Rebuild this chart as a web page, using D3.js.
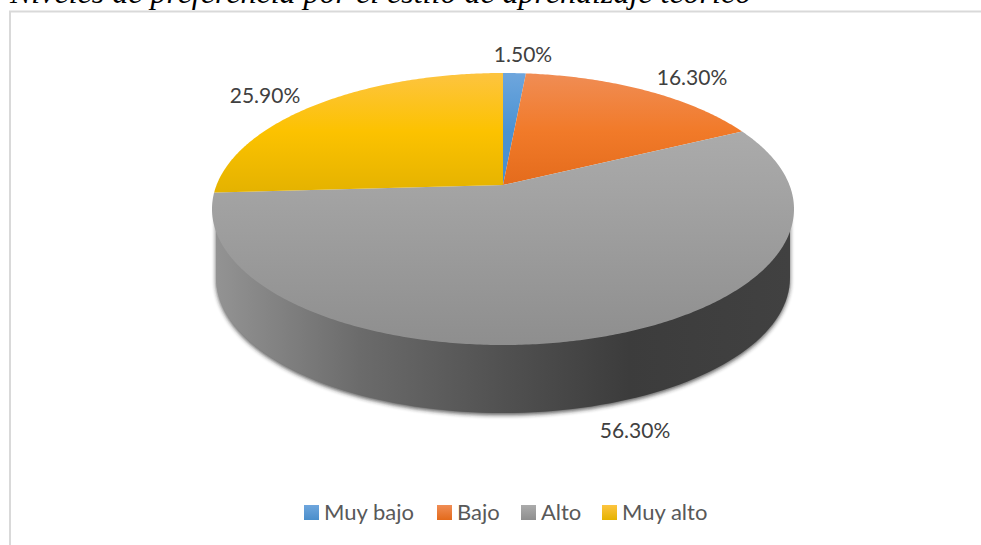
<!DOCTYPE html>
<html><head><meta charset="utf-8">
<script src="https://cdn.jsdelivr.net/npm/d3@7"></script>
<style>html,body{margin:0;padding:0;background:#fff;overflow:hidden}svg{display:block}</style>
</head><body><svg id="c" width="981" height="545"></svg>
<script>
const categories = ["Muy bajo", "Bajo", "Alto", "Muy alto"];
const values = [1.5, 16.3, 56.3, 25.9];
const valueLabels = ["1.50%", "16.30%", "56.30%", "25.90%"];
const titleText = "Niveles de preferencia por el estilo de aprendizaje teórico";
const gradientStops = [
  ["#6ea6dd", "#4a92d3", "#4a8ecb"],
  ["#f08d55", "#f17a29", "#e36a1b"],
  ["#ababab", "#a3a3a3", "#8e8e8e"],
  ["#fdc440", "#fcc200", "#e5b300"]
];
const labelPos = [[523, 62], [692, 85], [635, 438], [265, 103]];
const legendSwatchX = [304, 437, 521, 602];

const svg = d3.select("#c");
const defs = svg.append("defs");
const cx = 503, cy = 209, rx = 291, ry = 136, k = -24 / 136;
const sx = d3.scaleLinear().domain([-1, 1]).range([cx - rx, cx + rx]);
const sy = d3.scaleLinear().domain([-1, 1]).range([cy - ry, cy + ry]);
// perspective mapping of the unit disc on to the visible ellipse
function project(a, r = 1) {
  const u = r * Math.sin(a), v = -r * Math.cos(a), d = 1 + k * v;
  return [sx(u * Math.sqrt(1 - k * k) / d), sy((v + k) / d)];
}
const pie = d3.pie().sort(null).value(d => d)(values);
const line = d3.line();

// title and frame
svg.append("text").attr("x", 10).attr("y", 3).text(titleText)
  .attr("font-family", "Liberation Serif").attr("font-style", "italic")
  .attr("font-size", 32).attr("fill", "#000");
svg.append("path").attr("d", "M10,545V11.5H981").attr("fill", "none")
  .attr("stroke", "#d9d9d9").attr("stroke-width", 2);

// gradients
gradientStops.forEach((s, i) => {
  const g = defs.append("linearGradient").attr("id", "g" + i)
    .attr("gradientUnits", "userSpaceOnUse").attr("x1", 0).attr("x2", 0)
    .attr("y1", i === 2 ? 130 : 73).attr("y2", i === 2 ? 345 : 190);
  [0, i === 2 ? 0.3 : 0.5, 1].forEach((o, j) =>
    g.append("stop").attr("offset", o).attr("stop-color", s[j]));
  const lg = defs.append("linearGradient").attr("id", "lg" + i)
    .attr("x1", 0).attr("x2", 0).attr("y1", 0).attr("y2", 1);
  lg.append("stop").attr("offset", 0).attr("stop-color", s[0]);
  lg.append("stop").attr("offset", 1).attr("stop-color", s[2]);
});
const side = defs.append("linearGradient").attr("id", "side")
  .attr("gradientUnits", "userSpaceOnUse").attr("x1", 216).attr("x2", 790).attr("y1", 0).attr("y2", 0);
[[0, "#939393"], [0.25, "#6b6b6b"], [0.5, "#515151"], [0.72, "#3c3c3c"], [1, "#414141"]]
  .forEach(([o, c]) => side.append("stop").attr("offset", o).attr("stop-color", c));
defs.append("filter").attr("id", "blur").attr("x", "-5%").attr("y", "-5%").attr("width", "110%").attr("height", "110%")
  .append("feGaussianBlur").attr("stdDeviation", 2.2);

// extruded side and its shadow
const bx = 287, by = 135, bcy = 278;
const bottom = d3.range(0, 181, 2).map(t => {
  const r = t * Math.PI / 180;
  return [cx + bx * Math.cos(r), bcy + by * Math.sin(r)];
});
const sideShape = [[cx + bx, cy], ...bottom, [cx - bx, cy]];
svg.append("path").attr("d", line(sideShape) + "Z").attr("fill", "#222").attr("opacity", 0.75)
  .attr("filter", "url(#blur)").attr("transform", "translate(0,2)");
svg.append("path").attr("d", line(sideShape) + "Z").attr("fill", "url(#side)");

// top face
svg.selectAll("path.slice").data(pie).join("path").attr("class", "slice")
  .attr("d", d => {
    const n = Math.ceil((d.endAngle - d.startAngle) / 0.01);
    const arc = d3.range(n + 1).map(i => project(d.startAngle + (d.endAngle - d.startAngle) * i / n));
    return line([project(0, 0), ...arc]) + "Z";
  })
  .attr("fill", (d, i) => `url(#g${i})`);

// data labels
svg.selectAll("text.val").data(valueLabels).join("text").attr("class", "val")
  .attr("x", (d, i) => labelPos[i][0]).attr("y", (d, i) => labelPos[i][1])
  .attr("text-anchor", "middle").attr("dominant-baseline", "auto")
  .attr("font-family", "Lato").attr("font-size", 21).attr("fill", "#404040").text(d => d);

// legend
const leg = svg.selectAll("g.leg").data(categories).join("g").attr("class", "leg")
  .attr("transform", (d, i) => `translate(${legendSwatchX[i]},505)`);
leg.append("rect").attr("width", 15).attr("height", 15).attr("fill", (d, i) => `url(#lg${i})`);
leg.append("text").attr("x", 20).attr("y", 15).text(d => d)
  .attr("font-family", "Lato").attr("font-size", 22).attr("fill", "#595959");
</script></body></html>
